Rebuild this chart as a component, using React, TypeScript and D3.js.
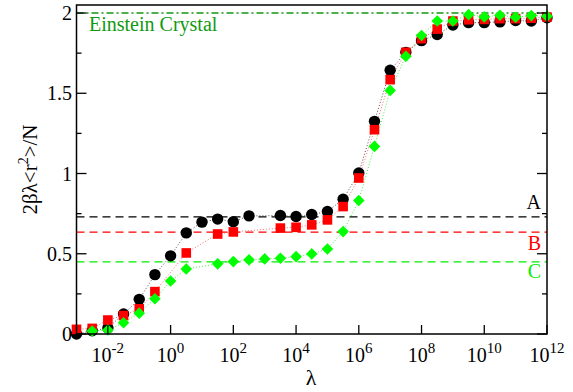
import React from 'react';
import * as d3 from 'd3';

// log10(lambda) and values for each series
const blackExp = [-3, -2.5, -2, -1.5, -1, -0.5, 0, 0.5, 1, 1.5, 2, 2.5, 3.5, 4, 4.5, 5, 5.5, 6, 6.5, 7, 7.5, 8, 8.5, 9, 9.5, 10, 10.5, 11, 11.5, 12];
const blackVal = [0.0, 0.02, 0.037, 0.125, 0.216, 0.37, 0.487, 0.63, 0.697, 0.716, 0.70, 0.736, 0.738, 0.732, 0.745, 0.763, 0.84, 1.003, 1.325, 1.643, 1.755, 1.828, 1.866, 1.925, 1.94, 1.94, 1.945, 1.953, 1.95, 1.97];

const redExp = [-3, -2.5, -2, -1.5, -1, -0.5, 0.5, 1.5, 2, 3.5, 4, 4.5, 5, 5.5, 6, 6.5, 7, 7.5, 8, 8.5, 9, 9.5, 10, 10.5, 11, 11.5, 12];
const redVal = [0.029, 0.035, 0.087, 0.115, 0.157, 0.264, 0.505, 0.623, 0.636, 0.66, 0.665, 0.68, 0.711, 0.794, 0.972, 1.273, 1.585, 1.755, 1.84, 1.9, 1.95, 1.958, 1.96, 1.965, 1.965, 1.968, 1.975];

const greenExp = [-2.5, -2, -1.5, -1, -0.5, 0, 0.5, 1.5, 2, 2.5, 3, 3.5, 4, 4.5, 5, 5.5, 6, 6.5, 7, 7.5, 8, 8.5, 9, 9.5, 10, 10.5, 11, 11.5, 12];
const greenVal = [0.019, 0.025, 0.07, 0.13, 0.22, 0.33, 0.405, 0.437, 0.451, 0.462, 0.468, 0.472, 0.482, 0.499, 0.53, 0.638, 0.832, 1.169, 1.518, 1.73, 1.86, 1.95, 1.95, 1.99, 1.976, 1.986, 1.974, 1.984, 1.98];

const refNames = ['A', 'B', 'C'];
const refVals = [0.73, 0.635, 0.45];
const refColors = ['#000000', '#ff0000', '#00ee00'];
const einstein = 2;

const xTickExp = [-2, 0, 2, 4, 6, 8, 10, 12];
const yTicks = [0, 0.5, 1, 1.5, 2];
const yMinor = [0.25, 0.75, 1.25, 1.75];

const W = 573, H = 392;
const m = { left: 76.5, right: 26, top: 5, bottom: 58 };
const font = 'Liberation Serif';

export default function App() {
  const x = d3.scaleLog().domain([1e-3, 1e12]).range([m.left, W - m.right]);
  const y = d3.scaleLinear().domain([0, 2.05]).range([H - m.bottom, m.top]);
  const x0 = m.left, x1 = W - m.right, y0 = H - m.bottom, y1 = m.top;

  const line = d3.line<[number, number]>().x(d => x(Math.pow(10, d[0]))).y(d => y(d[1]));
  const pts = (e: number[], v: number[]) => e.map((ex, i) => [ex, v[i]] as [number, number]);
  const black = pts(blackExp, blackVal);
  const red = pts(redExp, redVal);
  const green = pts(greenExp, greenVal);

  return (
    <div style={{ position: 'fixed', left: 0, top: 0, background: '#fff' }}>
      <svg width={W} height={H} style={{ display: 'block' }}>
        <rect width={W} height={H} fill="#fff" />
        {/* reference lines */}
        {refVals.map((v, i) => (
          <line key={i} x1={x0} x2={x1} y1={y(v)} y2={y(v)} stroke={refColors[i]} strokeWidth={1.3} strokeDasharray="8,5" />
        ))}
        <line x1={x0} x2={x1} y1={y(einstein)} y2={y(einstein)} stroke="#119911" strokeWidth={1.3} strokeDasharray="7,3,2,3" />
        <text x={89} y={31} fontSize={20} fontFamily={font} fill="#119911">Einstein Crystal</text>
        {refNames.map((n, i) => (
          <text key={n} x={541} y={[209, 250, 278][i]} fontSize={20} fontFamily={font} textAnchor="end" fill={refColors[i]}>{n}</text>
        ))}

        {/* connecting dotted lines */}
        <path d={line(black) || ''} fill="none" stroke="#555" strokeWidth={1} strokeDasharray="1,2" />
        <path d={line(red) || ''} fill="none" stroke="#ff6666" strokeWidth={1} strokeDasharray="1,2" />
        <path d={line(green) || ''} fill="none" stroke="#44ee44" strokeWidth={1} strokeDasharray="1,2" />

        {/* markers */}
        {black.map((d, i) => (
          <circle key={'b' + i} cx={x(Math.pow(10, d[0]))} cy={y(d[1])} r={5.7} fill="#000" />
        ))}
        {red.map((d, i) => (
          <rect key={'r' + i} x={x(Math.pow(10, d[0])) - 4.8} y={y(d[1]) - 4.8} width={9.6} height={9.6} fill="#ff0000" />
        ))}
        {green.map((d, i) => {
          const cx = x(Math.pow(10, d[0])), cy = y(d[1]), s = 5.8;
          return <path key={'g' + i} d={`M${cx},${cy - s}L${cx + s},${cy}L${cx},${cy + s}L${cx - s},${cy}Z`} fill="#00ff00" />;
        })}

        {/* frame */}
        <rect x={x0} y={y1} width={x1 - x0} height={y0 - y1} fill="none" stroke="#000" strokeWidth={1.5} />

        {/* y ticks */}
        {yTicks.map(t => (
          <g key={t}>
            <line x1={x0} x2={x0 + 10} y1={y(t)} y2={y(t)} stroke="#000" strokeWidth={1.3} />
            <line x1={x1} x2={x1 - 10} y1={y(t)} y2={y(t)} stroke="#000" strokeWidth={1.3} />
            <text x={72} y={y(t)} dy="0.35em" fontSize={20} fontFamily={font} textAnchor="end">{t}</text>
          </g>
        ))}
        {yMinor.map(t => (
          <g key={t}>
            <line x1={x0} x2={x0 + 5} y1={y(t)} y2={y(t)} stroke="#000" strokeWidth={1.3} />
            <line x1={x1} x2={x1 - 5} y1={y(t)} y2={y(t)} stroke="#000" strokeWidth={1.3} />
          </g>
        ))}

        {/* x ticks */}
        {xTickExp.map(e => {
          const tx = x(Math.pow(10, e));
          return (
            <g key={e}>
              <line x1={tx} x2={tx} y1={y0} y2={y0 - 9} stroke="#000" strokeWidth={1.3} />
              <text x={tx} y={362} fontSize={20} fontFamily={font} textAnchor="middle">
                10<tspan fontSize={15} dy={-9}>{e}</tspan>
              </text>
            </g>
          );
        })}

        {/* axis titles */}
        <text x={311} y={385} fontSize={22} fontFamily={font} textAnchor="middle">λ</text>
        <text transform={`translate(37,${(y0 + y1) / 2}) rotate(-90)`} fontSize={21} fontFamily={font} textAnchor="middle">
          2βλ&lt;r<tspan fontSize={14} dy={-9}>2</tspan><tspan dy={9}>&gt;/N</tspan>
        </text>
      </svg>
    </div>
  );
}
